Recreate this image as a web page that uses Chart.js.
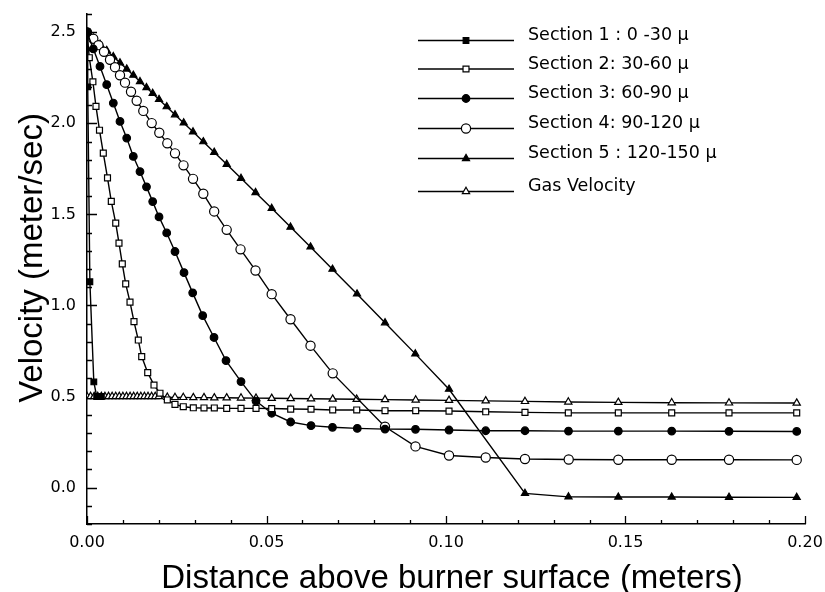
<!DOCTYPE html>
<html lang="en">
<head>
<meta charset="UTF-8">
<title>Particle velocity above burner surface</title>
<script src="https://cdn.jsdelivr.net/npm/chart.js"></script>
<style>
  body { margin: 0; background: #fff; }
  #wrap { width: 825px; height: 592px; }
</style>
</head>
<body>
<div id="wrap"><canvas id="velocityChart" width="825" height="592"></canvas></div>
<script>
// distance above burner (m) / velocity (m/s) per particle size section
const sec1X = [0, 0.0002, 0.0008, 0.0019, 0.0027, 0.004];
const sec1Y = [2.5, 2.2, 1.13, 0.58, 0.5, 0.5];

const sec2X = [0, 0.00064, 0.00164, 0.0025, 0.00348, 0.00454, 0.00571, 0.00677, 0.008, 0.00891,
  0.00983, 0.01078, 0.01198, 0.01309, 0.01429, 0.01524, 0.01691, 0.01866, 0.02033, 0.02237,
  0.02451, 0.02682, 0.02961, 0.03259, 0.03546, 0.03891, 0.0429, 0.04708, 0.05145, 0.05674,
  0.0624, 0.06844, 0.07513, 0.08301, 0.09156, 0.10084, 0.11106, 0.122, 0.13407, 0.148,
  0.16287, 0.17883, 0.19769];
const sec2Y = [2.5, 2.36, 2.228, 2.093, 1.962, 1.836, 1.7, 1.571, 1.452, 1.342,
  1.228, 1.118, 1.018, 0.911, 0.81, 0.719, 0.631, 0.563, 0.518, 0.481,
  0.457, 0.444, 0.438, 0.437, 0.437, 0.435, 0.435, 0.435, 0.434, 0.431,
  0.43, 0.426, 0.426, 0.422, 0.422, 0.42, 0.416, 0.413, 0.41, 0.41,
  0.41, 0.41, 0.41];

const sec3X = [0, 0.00175, 0.00362, 0.00549, 0.00733, 0.00919, 0.01106, 0.0129, 0.01476, 0.01657,
  0.0183, 0.02006, 0.0222, 0.02451, 0.02702, 0.02944, 0.03223, 0.03538, 0.03872, 0.0429,
  0.04708, 0.05145, 0.05674, 0.0624, 0.06838, 0.07529, 0.08301, 0.0915, 0.10084, 0.11106,
  0.122, 0.13412, 0.148, 0.16287, 0.17883, 0.19769];
const sec3Y = [2.5, 2.409, 2.312, 2.212, 2.111, 2.01, 1.919, 1.818, 1.735, 1.651,
  1.57, 1.486, 1.398, 1.296, 1.18, 1.069, 0.944, 0.824, 0.697, 0.582,
  0.475, 0.408, 0.36, 0.34, 0.331, 0.325, 0.321, 0.32, 0.316, 0.312,
  0.312, 0.31, 0.31, 0.31, 0.309, 0.308];

const sec4X = [0, 0.00175, 0.0032, 0.00474, 0.00641, 0.0078, 0.00919, 0.01058, 0.01226, 0.01384,
  0.01568, 0.01802, 0.02014, 0.02237, 0.02451, 0.02688, 0.02953, 0.0324, 0.03543, 0.03891,
  0.04276, 0.04694, 0.05145, 0.05669, 0.06226, 0.06844, 0.08301, 0.0915, 0.10084, 0.11106,
  0.122, 0.13418, 0.148, 0.16287, 0.17883, 0.19769];
const sec4Y = [2.5, 2.464, 2.429, 2.393, 2.349, 2.308, 2.264, 2.223, 2.173, 2.124,
  2.068, 2.001, 1.948, 1.89, 1.835, 1.769, 1.695, 1.613, 1.516, 1.415,
  1.308, 1.192, 1.062, 0.924, 0.779, 0.627, 0.334, 0.226, 0.176, 0.165,
  0.157, 0.154, 0.153, 0.153, 0.153, 0.152];

const sec5X = [0, 0.00175, 0.00362, 0.00549, 0.00733, 0.00919, 0.01106, 0.0129, 0.01476, 0.01657,
  0.0183, 0.02006, 0.0222, 0.02451, 0.02694, 0.02953, 0.0324, 0.03543, 0.03891, 0.0429,
  0.04694, 0.05145, 0.05669, 0.06226, 0.06838, 0.07521, 0.08301, 0.09145, 0.10084, 0.122,
  0.13412, 0.148, 0.16287, 0.17883, 0.19769];
const sec5Y = [2.5, 2.468, 2.434, 2.4, 2.366, 2.332, 2.298, 2.264, 2.229, 2.196,
  2.164, 2.131, 2.091, 2.047, 2.002, 1.953, 1.899, 1.841, 1.775, 1.698,
  1.62, 1.533, 1.43, 1.321, 1.199, 1.063, 0.905, 0.734, 0.54, -0.032,
  -0.051, -0.052, -0.052, -0.053, -0.054];

const gasX = [0, 0.001, 0.002, 0.003, 0.004, 0.005, 0.006, 0.007, 0.008, 0.009,
  0.01, 0.011, 0.012, 0.013, 0.014, 0.015, 0.016, 0.017, 0.018, 0.019,
  0.02, 0.02237, 0.02451, 0.02682, 0.02961, 0.03259, 0.03546, 0.03891, 0.0429, 0.04708,
  0.05145, 0.05674, 0.0624, 0.06844, 0.07513, 0.08301, 0.09156, 0.10084, 0.11106, 0.122,
  0.13407, 0.148, 0.16287, 0.17883, 0.19769];
const gasY = [0.5, 0.5, 0.5, 0.5, 0.5, 0.5, 0.5, 0.5, 0.5, 0.5,
  0.5, 0.5, 0.5, 0.5, 0.5, 0.5, 0.5, 0.5, 0.5, 0.5,
  0.5, 0.496, 0.495, 0.495, 0.494, 0.494, 0.493, 0.493, 0.492, 0.491,
  0.49, 0.489, 0.488, 0.486, 0.485, 0.483, 0.481, 0.479, 0.476, 0.473,
  0.47, 0.468, 0.466, 0.465, 0.464];

const legendLabels = [
  'Section 1 : 0 -30 μ',
  'Section 2: 30-60 μ',
  'Section 3: 60-90 μ',
  'Section 4: 90-120 μ',
  'Section 5 : 120-150 μ',
  'Gas Velocity'
];

const pts = (xs, ys) => xs.map((x, i) => ({ x: x, y: ys[i] }));
const isMajor = (v, step) => Math.abs(v / step - Math.round(v / step)) < 1e-6;

const line = { borderColor: '#000', borderWidth: 1.4, pointBorderColor: '#000', pointBorderWidth: 1.2, tension: 0, fill: false };

// inward tick marks, long at labelled values
const tickMarks = {
  id: 'tickMarks',
  beforeDatasetsDraw(chart) {
    const { ctx, chartArea, scales: { x, y } } = chart;
    ctx.save();
    ctx.strokeStyle = '#000';
    ctx.lineWidth = 1.3;
    ctx.beginPath();
    x.ticks.forEach(t => {
      const px = Math.round(x.getPixelForValue(t.value)) + 0.5;
      const len = isMajor(t.value, 0.05) ? 8 : 4;
      ctx.moveTo(px, chartArea.bottom);
      ctx.lineTo(px, chartArea.bottom - len);
    });
    y.ticks.forEach(t => {
      const py = Math.round(y.getPixelForValue(t.value)) + 0.5;
      const len = isMajor(t.value, 0.5) ? 10 : 5;
      ctx.moveTo(chartArea.left, py);
      ctx.lineTo(chartArea.left + len, py);
    });
    ctx.stroke();
    ctx.restore();
  }
};

// legend: short line with the marker in the middle, label on the right
const sideLegend = {
  id: 'sideLegend',
  afterDraw(chart) {
    const { ctx } = chart;
    const rows = [40.5, 69, 98.5, 128.5, 158.5, 191.5];
    ctx.save();
    chart.data.datasets.forEach((ds, i) => {
      const yy = rows[i];
      ctx.strokeStyle = '#000';
      ctx.lineWidth = 1.4;
      ctx.beginPath();
      ctx.moveTo(418, yy);
      ctx.lineTo(514, yy);
      ctx.stroke();
      ctx.fillStyle = ds.pointBackgroundColor;
      ctx.lineWidth = ds.pointBorderWidth;
      Chart.helpers.drawPoint(ctx, {
        pointStyle: ds.pointStyle, radius: ds.pointRadius, borderWidth: ds.pointBorderWidth, rotation: 0
      }, 466, yy);
      ctx.fillStyle = '#000';
      ctx.font = '17.5px "DejaVu Sans"';
      ctx.textAlign = 'left';
      ctx.textBaseline = 'middle';
      ctx.fillText(ds.label, 528, yy - 5);
    });
    ctx.restore();
  }
};

const axisTitles = {
  id: 'axisTitles',
  afterDraw(chart) {
    const { ctx } = chart;
    ctx.save();
    ctx.fillStyle = '#000';
    ctx.font = '33px "Liberation Sans", Arial, sans-serif';
    ctx.textAlign = 'center';
    ctx.textBaseline = 'alphabetic';
    ctx.fillText('Distance above burner surface (meters)', 452, 588);
    ctx.translate(42, 258);
    ctx.rotate(-Math.PI / 2);
    ctx.fillText('Velocity (meter/sec)', 0, 0);
    ctx.restore();
  }
};

const tickFont = { family: 'DejaVu Sans', size: 16 };

new Chart(document.getElementById('velocityChart'), {
  type: 'line',
  data: {
    datasets: [
      { ...line, label: legendLabels[0], data: pts(sec1X, sec1Y), pointStyle: 'rect', pointRadius: 4, pointBackgroundColor: '#000' },
      { ...line, label: legendLabels[1], data: pts(sec2X, sec2Y), pointStyle: 'rect', pointRadius: 4.2, pointBackgroundColor: '#fff' },
      { ...line, label: legendLabels[2], data: pts(sec3X, sec3Y), pointStyle: 'circle', pointRadius: 3.8, pointBackgroundColor: '#000' },
      { ...line, label: legendLabels[3], data: pts(sec4X, sec4Y), pointStyle: 'circle', pointRadius: 4.6, pointBackgroundColor: '#fff' },
      { ...line, label: legendLabels[4], data: pts(sec5X, sec5Y), pointStyle: 'triangle', pointRadius: 4.1, pointBackgroundColor: '#000' },
      { ...line, label: legendLabels[5], data: pts(gasX, gasY), pointStyle: 'triangle', pointRadius: 4.2, pointBackgroundColor: '#fff' }
    ]
  },
  options: {
    responsive: false,
    animation: false,
    layout: { padding: { top: 14, right: 20, left: 0, bottom: 0 } },
    plugins: { legend: { display: false }, tooltip: { enabled: false } },
    scales: {
      x: {
        type: 'linear', min: 0, max: 0.2,
        grid: { display: false, drawTicks: false },
        border: { display: true, color: '#000', width: 1.5 },
        ticks: {
          stepSize: 0.01, autoSkip: false, maxRotation: 0, padding: 9, color: '#000', font: tickFont,
          callback: v => isMajor(v, 0.05) ? v.toFixed(2) : ''
        },
        afterFit: s => { s.height = 68; s.paddingLeft = 0; s.paddingRight = 0; }
      },
      y: {
        type: 'linear', min: -0.2, max: 2.6,
        grid: { display: false, drawTicks: false },
        border: { display: true, color: '#000', width: 1.5 },
        ticks: {
          stepSize: 0.1, autoSkip: false, padding: 11, color: '#000', font: tickFont,
          callback: v => isMajor(v, 0.5) ? v.toFixed(1) : ''
        },
        afterFit: s => { s.width = 87; s.paddingTop = 0; s.paddingBottom = 0; }
      }
    }
  },
  plugins: [tickMarks, sideLegend, axisTitles]
});
</script>
</body>
</html>
